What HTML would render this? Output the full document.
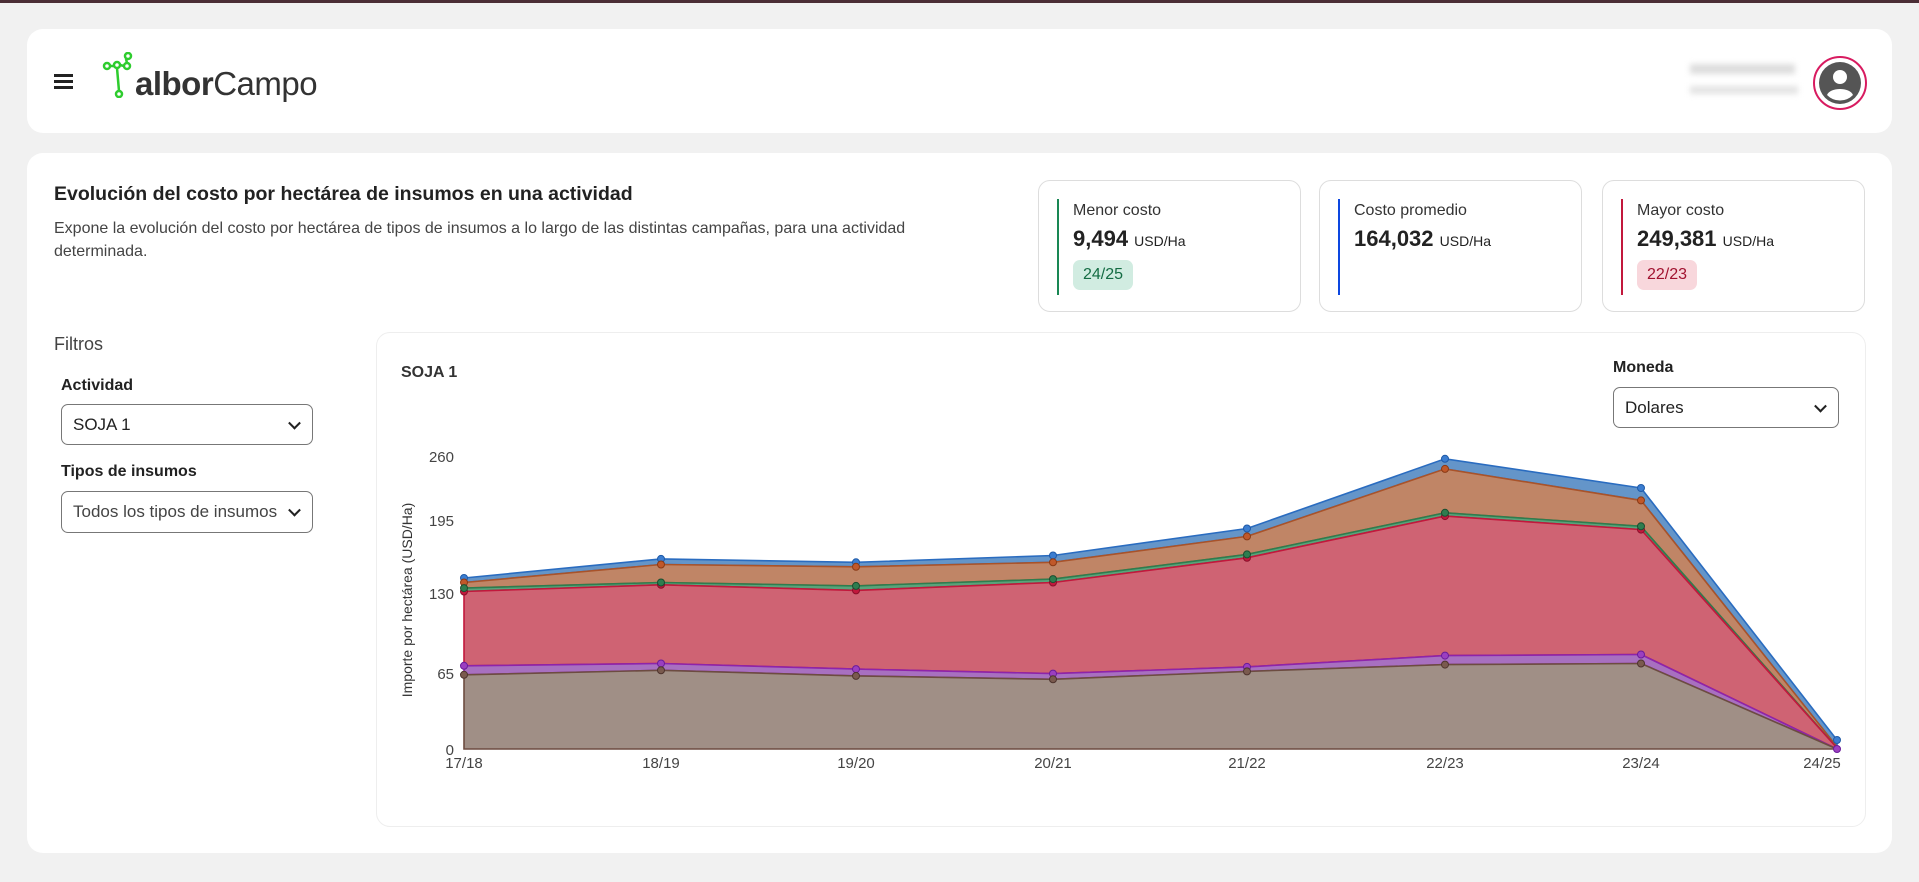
<!DOCTYPE html>
<html><head><meta charset="utf-8"><style>
*{box-sizing:border-box;margin:0;padding:0}
body{width:1919px;height:882px;background:#f1f1f1;font-family:"Liberation Sans",sans-serif;position:relative;overflow:hidden;color:#222}
.a{position:absolute}
.card{position:absolute;background:#fff;border-radius:16px}
.kpi{position:absolute;top:180px;height:132px;width:263px;border:1px solid #ddd;border-radius:12px;background:#fff}
.kpi .bar{position:absolute;left:18px;top:18px;width:2px;height:96px}
.kpi .l{position:absolute;left:34px;top:21px;font-size:16px;color:#333}
.kpi .v{position:absolute;left:34px;top:45px;font-size:22px;font-weight:bold;color:#222}
.kpi .v span{font-size:14px;font-weight:normal}
.kpi .b{position:absolute;left:34px;top:79px;height:30px;width:60px;border-radius:7px;font-size:16px;text-align:center;line-height:30px}
.sel{position:absolute;border:1px solid #777;border-radius:7px;background:#fff;font-size:17px;padding-left:11px;color:#222}
.sel:after{content:"";position:absolute;right:13px;top:50%;width:7px;height:7px;border-right:2px solid #222;border-bottom:2px solid #222;transform:translateY(-70%) rotate(45deg)}
.lbl{position:absolute;font-size:16px;font-weight:bold;color:#222}
</style></head><body>
<div class="a" style="left:0;top:0;width:1919px;height:3px;background:#4b2e36"></div>
<div class="card" style="left:27px;top:29px;width:1865px;height:104px"></div>
<div class="a" style="left:54px;top:74px;width:19px;height:3px;background:#222;box-shadow:0 6px 0 #222,0 12px 0 #222"></div>
<svg class="a" style="left:102px;top:52px" width="36" height="46" viewBox="0 0 36 46"><g stroke="#2ecc2e" stroke-width="2.5" fill="none"><circle cx="5" cy="14" r="3"/><circle cx="15" cy="13" r="3"/><circle cx="26" cy="4" r="3"/><circle cx="25" cy="14" r="3"/><circle cx="17" cy="42" r="3"/><line x1="8" y1="14" x2="12" y2="14"/><line x1="18" y1="13" x2="22" y2="14"/><line x1="24" y1="7" x2="25" y2="11"/><line x1="15" y1="16" x2="17" y2="39"/></g></svg>
<div class="a" style="left:135px;top:65px;font-size:33px;color:#333;letter-spacing:-0.5px"><span style="font-weight:bold">albor</span>Campo</div>
<div class="a" style="left:1690px;top:64px;width:105px;height:10px;background:#ddd;filter:blur(3px)"></div>
<div class="a" style="left:1690px;top:86px;width:108px;height:8px;background:#e3e3e3;filter:blur(3px)"></div>
<div class="a" style="left:1813px;top:56px;width:54px;height:54px;border:2px solid #d81b60;border-radius:50%;background:#fff"></div>
<svg class="a" style="left:1818px;top:61px" width="44" height="44" viewBox="0 0 44 44"><circle cx="22" cy="22" r="21" fill="#555"/><circle cx="22" cy="16" r="7" fill="#fff"/><path d="M9 34c3-8 23-8 26 0a18 18 0 0 1-26 0z" fill="#fff"/></svg>

<div class="card" style="left:27px;top:153px;width:1865px;height:700px"></div>
<div class="a" style="left:54px;top:183px;font-size:19.5px;font-weight:bold">Evolución del costo por hectárea de insumos en una actividad</div>
<div class="a" style="left:54px;top:217px;width:930px;font-size:16px;line-height:23px;color:#444">Expone la evolución del costo por hectárea de tipos de insumos a lo largo de las distintas campañas, para una actividad determinada.</div>

<div class="kpi" style="left:1038px"><div class="bar" style="background:#198754"></div><div class="l">Menor costo</div><div class="v">9,494 <span>USD/Ha</span></div><div class="b" style="background:#d1ece1;color:#146c43">24/25</div></div>
<div class="kpi" style="left:1319px"><div class="bar" style="background:#0d47e0"></div><div class="l">Costo promedio</div><div class="v">164,032 <span>USD/Ha</span></div></div>
<div class="kpi" style="left:1602px"><div class="bar" style="background:#c2183c"></div><div class="l">Mayor costo</div><div class="v">249,381 <span>USD/Ha</span></div><div class="b" style="background:#f8d7dc;color:#a1122f">22/23</div></div>

<div class="a" style="left:54px;top:334px;font-size:18px;color:#444">Filtros</div>
<div class="lbl" style="left:61px;top:377px">Actividad</div>
<div class="sel" style="left:61px;top:404px;width:252px;height:41px;line-height:39px">SOJA 1</div>
<div class="lbl" style="left:61px;top:463px">Tipos de insumos</div>
<div class="sel" style="left:61px;top:491px;width:252px;height:42px;line-height:40px;color:#444">Todos los tipos de insumos</div>

<div class="a" style="left:376px;top:332px;width:1490px;height:495px;border:1px solid #eee;border-radius:14px;background:#fff"></div>
<div class="a" style="left:401px;top:364px;font-size:16px;font-weight:bold;color:#333">SOJA 1</div>
<div class="lbl" style="left:1613px;top:359px">Moneda</div>
<div class="sel" style="left:1613px;top:387px;width:226px;height:41px;line-height:39px">Dolares</div>

<svg class="a" style="left:0;top:0" width="1919" height="882">
<g font-family="Liberation Sans" font-size="15" fill="#444" text-anchor="end">
<text x="454" y="462">260</text><text x="454" y="526">195</text><text x="454" y="599">130</text><text x="454" y="679">65</text><text x="454" y="755">0</text></g>
<text transform="translate(412,600) rotate(-90)" font-family="Liberation Sans" font-size="14" fill="#333" text-anchor="middle">Importe por hectárea (USD/Ha)</text>
<g font-family="Liberation Sans" font-size="15" fill="#444" text-anchor="middle">
<text x="464" y="768">17/18</text><text x="661" y="768">18/19</text><text x="856" y="768">19/20</text><text x="1053" y="768">20/21</text><text x="1247" y="768">21/22</text><text x="1445" y="768">22/23</text><text x="1641" y="768">23/24</text><text x="1822" y="768">24/25</text></g>
<g stroke-width="1.6">
<polygon fill="#6495c9" stroke="#2a6cc0" points="464,578 661,558.9 856,562.3 1053,555.5 1247,528.5 1445,458.8 1641,488 1837,740 1837,746.8 1641,500.4 1445,468.9 1247,536.4 1053,562.3 856,566.8 661,564.5 464,582.5"/>
<polygon fill="#c08566" stroke="#a9532a" points="464,582.5 661,564.5 856,566.8 1053,562.3 1247,536.4 1445,468.9 1641,500.4 1837,746.8 1837,747.9 1641,526.3 1445,512.8 1247,554.4 1053,579.1 856,585.9 661,582.5 464,588.1"/>
<polygon fill="#5aa37a" stroke="#2e7d4f" points="464,588.1 661,582.5 856,585.9 1053,579.1 1247,554.4 1445,512.8 1641,526.3 1837,747.9 1837,748 1641,529.6 1445,516.1 1247,557.8 1053,582.5 856,590.4 661,584.8 464,591.5"/>
<polygon fill="#cf6373" stroke="#c2183c" points="464,591.5 661,584.8 856,590.4 1053,582.5 1247,557.8 1445,516.1 1641,529.6 1837,748 1837,749 1641,654.5 1445,655.6 1247,666.9 1053,673.6 856,669.1 661,663.5 464,665.8"/>
<polygon fill="#a870c0" stroke="#8e24aa" points="464,665.8 661,663.5 856,669.1 1053,673.6 1247,666.9 1445,655.6 1641,654.5 1837,749 1641,663.5 1445,664.6 1247,671.4 1053,679.3 856,675.9 661,670.3 464,674.8"/>
<polygon fill="#a08f86" stroke="#6d4c41" points="464,674.8 661,670.3 856,675.9 1053,679.3 1247,671.4 1445,664.6 1641,663.5 1837,749 464,749"/>
</g>
<g stroke-width="1">
<g fill="#3b7dd0" stroke="#1f5aa8"><circle cx="464" cy="578" r="3.5"/><circle cx="661" cy="558.9" r="3.5"/><circle cx="856" cy="562.3" r="3.5"/><circle cx="1053" cy="555.5" r="3.5"/><circle cx="1247" cy="528.5" r="3.5"/><circle cx="1445" cy="458.8" r="3.5"/><circle cx="1641" cy="488" r="3.5"/><circle cx="1837" cy="740" r="3.5"/></g>
<g fill="#c0582a" stroke="#8a3a15"><circle cx="464" cy="582.5" r="3.5"/><circle cx="661" cy="564.5" r="3.5"/><circle cx="856" cy="566.8" r="3.5"/><circle cx="1053" cy="562.3" r="3.5"/><circle cx="1247" cy="536.4" r="3.5"/><circle cx="1445" cy="468.9" r="3.5"/><circle cx="1641" cy="500.4" r="3.5"/></g>
<g fill="#c2183c" stroke="#8a0f2a"><circle cx="464" cy="591.5" r="3.5"/><circle cx="661" cy="584.8" r="3.5"/><circle cx="856" cy="590.4" r="3.5"/><circle cx="1053" cy="582.5" r="3.5"/><circle cx="1247" cy="557.8" r="3.5"/><circle cx="1445" cy="516.1" r="3.5"/><circle cx="1641" cy="529.6" r="3.5"/></g>
<g fill="#2e7d4f" stroke="#1b4d30"><circle cx="464" cy="588.1" r="3.5"/><circle cx="661" cy="582.5" r="3.5"/><circle cx="856" cy="585.9" r="3.5"/><circle cx="1053" cy="579.1" r="3.5"/><circle cx="1247" cy="554.4" r="3.5"/><circle cx="1445" cy="512.8" r="3.5"/><circle cx="1641" cy="526.3" r="3.5"/></g>
<g fill="#9b3fc0" stroke="#6a1b9a"><circle cx="464" cy="665.8" r="3.5"/><circle cx="661" cy="663.5" r="3.5"/><circle cx="856" cy="669.1" r="3.5"/><circle cx="1053" cy="673.6" r="3.5"/><circle cx="1247" cy="666.9" r="3.5"/><circle cx="1445" cy="655.6" r="3.5"/><circle cx="1641" cy="654.5" r="3.5"/><circle cx="1837" cy="749" r="3.5"/></g>
<g fill="#7a5a4e" stroke="#4e342e"><circle cx="464" cy="674.8" r="3.5"/><circle cx="661" cy="670.3" r="3.5"/><circle cx="856" cy="675.9" r="3.5"/><circle cx="1053" cy="679.3" r="3.5"/><circle cx="1247" cy="671.4" r="3.5"/><circle cx="1445" cy="664.6" r="3.5"/><circle cx="1641" cy="663.5" r="3.5"/></g>
</g>
</svg>
</body></html>
